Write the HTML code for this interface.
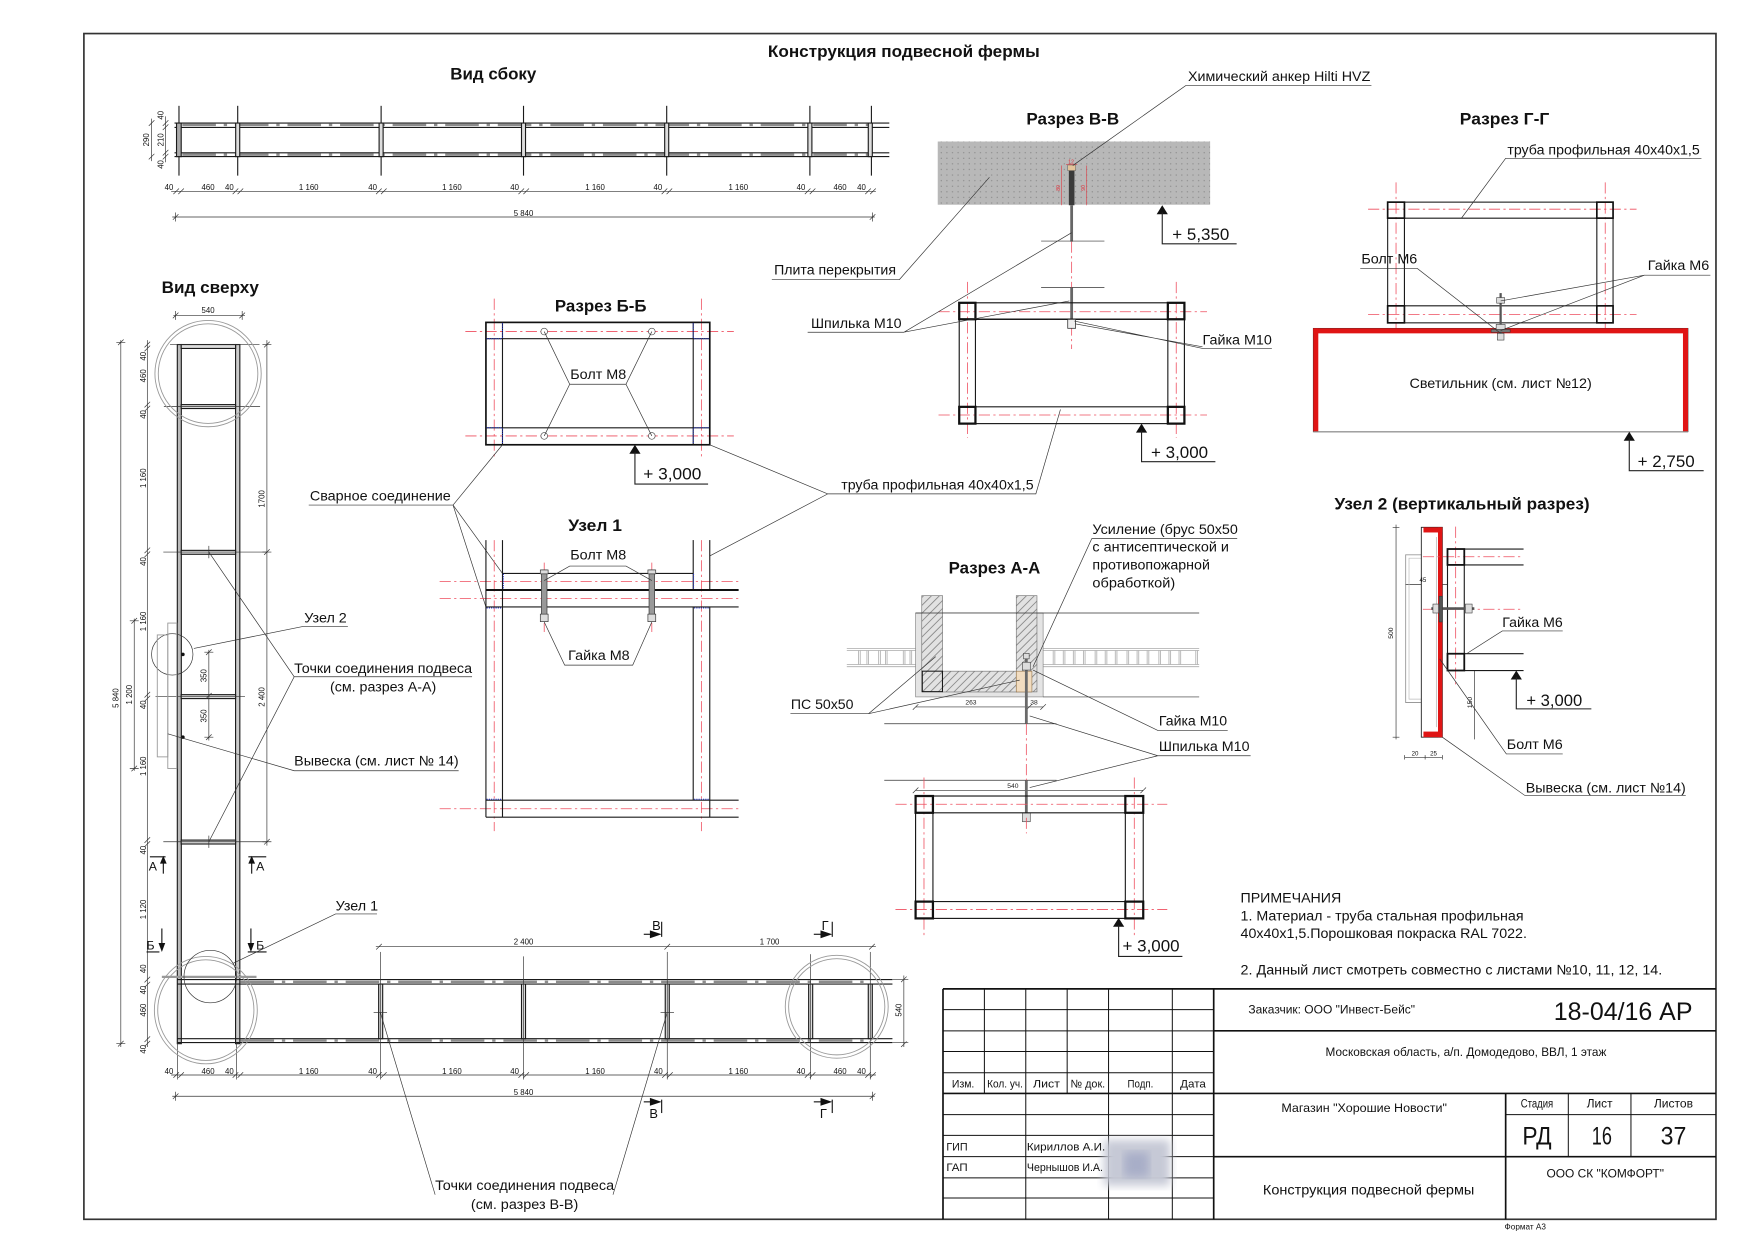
<!DOCTYPE html>
<html><head><meta charset="utf-8">
<style>
html,body{margin:0;padding:0;background:#fff;}
svg{display:block;}
text{font-family:"Liberation Sans",sans-serif;fill:#111;}
.k{stroke:#1a1a1a;fill:none;stroke-width:1;}
.kb{stroke:#111;fill:none;stroke-width:2;}
.th{stroke:#333;fill:none;stroke-width:0.6;}
.g{stroke:#9a9a9a;fill:none;stroke-width:0.8;}
.r{stroke:#ee4d5e;fill:none;stroke-width:0.7;stroke-dasharray:10 3 2 3;}
.ld{stroke:#333;fill:none;stroke-width:0.6;}
.gd{stroke:#8c8c8c;stroke-width:2.2;stroke-dasharray:30 7 3 7;fill:none;}
.wb{stroke:#2233cc;stroke-width:0.9;stroke-dasharray:1 1;fill:none;}
.lab{font-size:12.5px;}
.ttl{font-size:15px;font-weight:bold;}
.dm{font-size:7px;fill:#222;}
.el{font-size:14.5px;}
.go{font-family:"Liberation Sans Narrow","Liberation Sans",sans-serif;}
</style></head><body>
<svg width="1754" height="1240" viewBox="0 0 1568 1108.5" preserveAspectRatio="none" xmlns="http://www.w3.org/2000/svg">
<defs>
<pattern id="dots" width="5" height="5" patternUnits="userSpaceOnUse"><rect width="5" height="5" fill="#b8b8b8"/><circle cx="1.5" cy="1.5" r="0.6" fill="#8a8a8a"/></pattern>
<pattern id="hatch" width="5" height="5" patternUnits="userSpaceOnUse" patternTransform="rotate(45)"><rect width="5" height="5" fill="#e2e2e2"/><line x1="0" y1="0" x2="0" y2="5" stroke="#8a8a8a" stroke-width="1.6"/></pattern>
<filter id="blur"><feGaussianBlur stdDeviation="4"/></filter>
</defs>
<rect x="0" y="0" width="1568" height="1108.5" fill="#fff"/>

<!-- Frame -->
<rect x="75" y="30" width="1459" height="1060" fill="none" stroke="#333" stroke-width="1.5"/>

<!-- Main title -->
<text x="808" y="51" text-anchor="middle" class="ttl" textLength="243" lengthAdjust="spacingAndGlyphs">Конструкция подвесной фермы</text>
<text x="441" y="71" text-anchor="middle" class="ttl" textLength="77" lengthAdjust="spacingAndGlyphs">Вид сбоку</text>
<text x="188" y="262" text-anchor="middle" class="ttl" textLength="87" lengthAdjust="spacingAndGlyphs">Вид сверху</text>

<!-- ===== SIDE VIEW ===== -->
<g class="k">
<line x1="156" y1="110" x2="795" y2="110"/>
<line x1="156" y1="113.9" x2="795" y2="113.9"/>
<line x1="156" y1="136.6" x2="795" y2="136.6"/>
<line x1="156" y1="140" x2="795" y2="140"/>
</g>
<line class="gd" x1="163" y1="111.6" x2="776" y2="111.6"/>
<line class="gd" x1="163" y1="138.3" x2="776" y2="138.3"/>
<g class="k">
<line x1="160" y1="94.6" x2="160" y2="157"/><rect x="157.8" y="110" width="4.2" height="30" fill="#aaa"/>
<line x1="212.5" y1="94.6" x2="212.5" y2="157"/><rect x="210.7" y="110" width="3.6" height="30" fill="#ddd"/>
<line x1="340.7" y1="94.6" x2="340.7" y2="157"/><rect x="338.9" y="110" width="3.6" height="30" fill="#ddd"/>
<line x1="468" y1="94.6" x2="468" y2="157"/><rect x="466.2" y="110" width="3.6" height="30" fill="#ddd"/>
<line x1="596" y1="94.6" x2="596" y2="157"/><rect x="594.2" y="110" width="3.6" height="30" fill="#ddd"/>
<line x1="724" y1="94.6" x2="724" y2="157"/><rect x="722.2" y="110" width="3.6" height="30" fill="#ddd"/>
<line x1="779" y1="94.6" x2="779" y2="157"/><rect x="776.2" y="110" width="3.6" height="30" fill="#ddd"/>
</g>
<!-- chain dims side -->
<g class="th">
<line x1="153" y1="171" x2="783" y2="171"/>
<path d="M155,173.5 L160,168.5 M159.4,173.5 L164.4,168.5 M208,173.5 L213,168.5 M212.4,173.5 L217.4,168.5 M336.2,173.5 L341.2,168.5 M340.6,173.5 L345.6,168.5 M463.5,173.5 L468.5,168.5 M467.9,173.5 L472.9,168.5 M591.5,173.5 L596.5,168.5 M595.9,173.5 L600.9,168.5 M719.5,173.5 L724.5,168.5 M723.9,173.5 L728.9,168.5 M773.5,173.5 L778.5,168.5 M777.9,173.5 L782.9,168.5"/>
<line x1="154" y1="194" x2="782" y2="194"/>
<path d="M154.5,196.5 L159.5,191.5 M777.5,196.5 L782.5,191.5 M157,190 V198 M780,190 V198"/>
<line x1="135.5" y1="106" x2="135.5" y2="144"/>
<path d="M133,112.5 L138,107.5 M133,142.5 L138,137.5"/>
<line x1="148" y1="104" x2="148" y2="145"/>
<path d="M145.5,112.5 L150.5,107.5 M145.5,116.2 L150.5,111.2 M145.5,139 L150.5,134 M145.5,142.5 L150.5,137.5"/>
</g>
<g class="dm">
<text x="155" y="170" text-anchor="end">40</text>
<text x="186" y="170" text-anchor="middle">460</text>
<text x="209" y="170" text-anchor="end">40</text>
<text x="276" y="170" text-anchor="middle">1 160</text>
<text x="337" y="170" text-anchor="end">40</text>
<text x="404" y="170" text-anchor="middle">1 160</text>
<text x="464" y="170" text-anchor="end">40</text>
<text x="532" y="170" text-anchor="middle">1 160</text>
<text x="592" y="170" text-anchor="end">40</text>
<text x="660" y="170" text-anchor="middle">1 160</text>
<text x="720" y="170" text-anchor="end">40</text>
<text x="751" y="170" text-anchor="middle">460</text>
<text x="774" y="170" text-anchor="end">40</text>
<text x="468" y="193" text-anchor="middle">5 840</text>
<text transform="translate(133,125) rotate(-90)" text-anchor="middle">290</text>
<text transform="translate(146,103) rotate(-90)" text-anchor="middle">40</text>
<text transform="translate(146,125) rotate(-90)" text-anchor="middle">210</text>
<text transform="translate(146,147) rotate(-90)" text-anchor="middle">40</text>
</g>

<!-- ===== TOP VIEW vertical member ===== -->
<g class="k">
<rect x="158.5" y="308" width="3.6" height="625" fill="#bbb"/>
<rect x="210.6" y="308" width="3.8" height="625" fill="#ccc"/>
</g>
<g class="k">
<rect x="162" y="308" width="48.6" height="3.5" fill="#ddd"/>
<rect x="162" y="361.7" width="48.6" height="3.5" fill="#ddd"/>
<rect x="162" y="492" width="48.6" height="3.5" fill="#ddd"/>
<rect x="162" y="621" width="48.6" height="3.5" fill="#ddd"/>
<rect x="162" y="751" width="48.6" height="3.5" fill="#ddd"/>
</g>
<g class="th">
<line x1="152" y1="308" x2="232" y2="308"/>
<line x1="146.5" y1="363.5" x2="232.5" y2="363.5"/>
<line x1="146" y1="493.5" x2="239" y2="493.5"/>
<line x1="139" y1="622.5" x2="219" y2="622.5"/>
<line x1="146" y1="752.5" x2="239" y2="752.5"/>
<line x1="186.7" y1="488" x2="186.7" y2="499"/>
<line x1="186.7" y1="747" x2="186.7" y2="758"/>
</g>
<!-- circles -->
<circle cx="186" cy="334" r="47.5" fill="none" stroke="#999" stroke-width="0.8"/>
<circle cx="186" cy="334" r="44.5" fill="none" stroke="#999" stroke-width="0.8"/>
<circle cx="154" cy="585" r="18.5" fill="none" stroke="#333" stroke-width="0.6"/>
<!-- sign -->
<rect x="140.6" y="567.6" width="9.4" height="109" fill="none" stroke="#999" stroke-width="0.8"/>
<rect x="150" y="557" width="8" height="130" fill="none" stroke="#999" stroke-width="0.8"/>
<circle cx="163.5" cy="585" r="1.6" fill="#111"/>
<circle cx="163.5" cy="659" r="1.6" fill="#111"/>
<!-- dims top view -->
<g class="th">
<line x1="155" y1="282" x2="219" y2="282"/>
<path d="M154.5,284.5 L159.5,279.5 M214,284.5 L219,279.5 M157,278 V286 M216.5,278 V286"/>
<line x1="108" y1="304" x2="108" y2="936"/>
<path d="M105.5,308.5 L110.5,303.5 M105.5,935.5 L110.5,930.5 M104,306 H112 M104,933 H112"/>
<line x1="131.7" y1="304" x2="131.7" y2="936"/>
<path d="M129.2,310.5 L134.2,305.5 M129.2,314 L134.2,309 M129.2,364.2 L134.2,359.2 M129.2,367.7 L134.2,362.7 M129.2,494.5 L134.2,489.5 M129.2,498 L134.2,493 M129.2,623.5 L134.2,618.5 M129.2,627 L134.2,622 M129.2,753.5 L134.2,748.5 M129.2,757 L134.2,752 M129.2,878.2 L134.2,873.2 M129.2,882.7 L134.2,877.7 M129.2,931.5 L134.2,926.5 M129.2,935.5 L134.2,930.5"/>
<line x1="120" y1="553" x2="120" y2="689"/>
<path d="M117.5,557.5 L122.5,552.5 M117.5,689.5 L122.5,684.5 M116,555 H124 M116,687 H124"/>
<line x1="238.6" y1="304" x2="238.6" y2="756"/>
<path d="M236.1,310.5 L241.1,305.5 M236.1,496 L241.1,491 M236.1,755 L241.1,750 M234.6,308 H242.6 M234.6,493.5 H242.6 M234.6,752.5 H242.6"/>
<line x1="186.7" y1="581" x2="186.7" y2="662"/>
<path d="M184.2,585.5 L189.2,580.5 M184.2,624.5 L189.2,619.5 M184.2,661.5 L189.2,656.5 M182.7,583 H190.7 M182.7,659 H190.7"/>
</g>
<g class="dm">
<text x="186" y="280" text-anchor="middle">540</text>
<text transform="translate(106,624) rotate(-90)" text-anchor="middle">5 840</text>
<text transform="translate(118,621) rotate(-90)" text-anchor="middle">1 200</text>
<text transform="translate(130.5,318.5) rotate(-90)" text-anchor="middle">40</text>
<text transform="translate(130.5,336) rotate(-90)" text-anchor="middle">460</text>
<text transform="translate(130.5,370.5) rotate(-90)" text-anchor="middle">40</text>
<text transform="translate(130.5,427.5) rotate(-90)" text-anchor="middle">1 160</text>
<text transform="translate(130.5,502) rotate(-90)" text-anchor="middle">40</text>
<text transform="translate(130.5,555.5) rotate(-90)" text-anchor="middle">1 160</text>
<text transform="translate(130.5,630) rotate(-90)" text-anchor="middle">40</text>
<text transform="translate(130.5,685) rotate(-90)" text-anchor="middle">1 160</text>
<text transform="translate(130.5,760) rotate(-90)" text-anchor="middle">40</text>
<text transform="translate(130.5,813) rotate(-90)" text-anchor="middle">1 120</text>
<text transform="translate(130.5,866) rotate(-90)" text-anchor="middle">40</text>
<text transform="translate(130.5,885) rotate(-90)" text-anchor="middle">40</text>
<text transform="translate(130.5,903) rotate(-90)" text-anchor="middle">460</text>
<text transform="translate(130.5,938) rotate(-90)" text-anchor="middle">40</text>
<text transform="translate(236.5,446) rotate(-90)" text-anchor="middle">1700</text>
<text transform="translate(236.5,623) rotate(-90)" text-anchor="middle">2 400</text>
<text transform="translate(184.5,604) rotate(-90)" text-anchor="middle">350</text>
<text transform="translate(184.5,640) rotate(-90)" text-anchor="middle">350</text>
</g>
<!-- A-A markers -->
<g>
<line x1="134" y1="766" x2="148" y2="766" stroke="#111" stroke-width="1"/>
<text x="133" y="778" style="font-size:11px">А</text>
<line x1="146" y1="770" x2="146" y2="781" stroke="#111" stroke-width="1"/>
<path d="M143,772 L146,765 L149,772 Z" fill="#111"/>
<line x1="222" y1="766" x2="238" y2="766" stroke="#111" stroke-width="1"/>
<text x="229" y="778" style="font-size:11px">А</text>
<line x1="225" y1="770" x2="225" y2="781" stroke="#111" stroke-width="1"/>
<path d="M222,772 L225,765 L228,772 Z" fill="#111"/>
</g>
<!-- Б markers -->
<g>
<text x="131" y="849" style="font-size:11px">Б</text>
<line x1="131" y1="851" x2="142.5" y2="851" stroke="#111" stroke-width="1"/>
<line x1="144.7" y1="830" x2="144.7" y2="846" stroke="#111" stroke-width="1"/>
<path d="M141.7,843 L144.7,851 L147.7,843 Z" fill="#111"/>
<text x="229" y="849" style="font-size:11px">Б</text>
<line x1="221.5" y1="851" x2="238.3" y2="851" stroke="#111" stroke-width="1"/>
<line x1="224.3" y1="830" x2="224.3" y2="846" stroke="#111" stroke-width="1"/>
<path d="M221.3,843 L224.3,851 L227.3,843 Z" fill="#111"/>
</g>

<!-- Top view labels -->
<g class="ld">
<path d="M173.3,579.7 L271,560 H311"/>
<path d="M186.7,493.5 L263,605 L186.7,752.5 M263,605 H422"/>
<path d="M150,656 L263,689 H410"/>
</g>
<text x="272" y="556.5" class="lab" textLength="38" lengthAdjust="spacingAndGlyphs">Узел 2</text>
<text x="263" y="601.5" class="lab" textLength="159" lengthAdjust="spacingAndGlyphs">Точки соединения подвеса</text>
<text x="342.5" y="618" class="lab" text-anchor="middle" textLength="95" lengthAdjust="spacingAndGlyphs">(см. разрез А-А)</text>
<text x="263" y="684.5" class="lab" textLength="147" lengthAdjust="spacingAndGlyphs">Вывеска (см. лист № 14)</text>

<!-- ===== BOTTOM HORIZONTAL MEMBER ===== -->
<g class="k">
<line x1="158.6" y1="875.7" x2="797.8" y2="875.7"/>
<line x1="158.6" y1="879.7" x2="797.8" y2="879.7"/>
<line x1="158.6" y1="928.5" x2="797.8" y2="928.5"/>
<line x1="158.6" y1="932" x2="797.8" y2="932"/>
</g>
<line class="gd" x1="215" y1="877.7" x2="778" y2="877.7"/>
<line class="gd" x1="215" y1="930.2" x2="778" y2="930.2"/>
<line x1="144.7" y1="873.3" x2="229.3" y2="873.3" stroke="#999" stroke-width="2"/>
<g class="k">
<rect x="338.5" y="879.7" width="3.6" height="48.8" fill="#ddd"/>
<rect x="466.2" y="879.7" width="3.6" height="48.8" fill="#ddd"/>
<rect x="594.7" y="879.7" width="3.6" height="48.8" fill="#ddd"/>
<rect x="722.9" y="879.7" width="3.6" height="48.8" fill="#ddd"/>
<rect x="776.2" y="879.7" width="3.6" height="48.8" fill="#ddd"/>
</g>
<g class="th">
<line x1="340" y1="851" x2="340" y2="965"/>
<line x1="468" y1="855" x2="468" y2="965"/>
<line x1="596.5" y1="851" x2="596.5" y2="965"/>
<line x1="724.7" y1="853" x2="724.7" y2="965"/>
<line x1="778" y1="851" x2="778" y2="965"/>
<line x1="158.6" y1="932" x2="158.6" y2="965"/>
<line x1="211.5" y1="932" x2="211.5" y2="965"/>
<line x1="334" y1="905" x2="346" y2="905"/>
<line x1="590.5" y1="905" x2="602.5" y2="905"/>
<!-- chains -->
<line x1="153" y1="961" x2="783" y2="961"/>
<path d="M155,963.5 L160,958.5 M159.4,963.5 L164.4,958.5 M208,963.5 L213,958.5 M212.4,963.5 L217.4,958.5 M336.2,963.5 L341.2,958.5 M340.6,963.5 L345.6,958.5 M463.5,963.5 L468.5,958.5 M467.9,963.5 L472.9,958.5 M592,963.5 L597,958.5 M596.4,963.5 L601.4,958.5 M719.5,963.5 L724.5,958.5 M723.9,963.5 L728.9,958.5 M773.5,963.5 L778.5,958.5 M777.9,963.5 L782.9,958.5"/>
<line x1="154" y1="980" x2="782" y2="980"/>
<path d="M154.5,982.5 L159.5,977.5 M777.5,982.5 L782.5,977.5 M157,976 V984 M780,976 V984"/>
<line x1="336" y1="846.3" x2="783" y2="846.3"/>
<path d="M336.3,848.8 L341.3,843.8 M594,848.8 L599,843.8 M777,848.8 L782,843.8"/>
<line x1="808" y1="872" x2="808" y2="936"/>
<path d="M805.5,878 L810.5,873 M805.5,936 L810.5,931 M798,875.7 H812 M798,932 H812"/>
</g>
<g class="dm">
<text x="155" y="960" text-anchor="end">40</text>
<text x="186" y="960" text-anchor="middle">460</text>
<text x="209" y="960" text-anchor="end">40</text>
<text x="276" y="960" text-anchor="middle">1 160</text>
<text x="337" y="960" text-anchor="end">40</text>
<text x="404" y="960" text-anchor="middle">1 160</text>
<text x="464" y="960" text-anchor="end">40</text>
<text x="532" y="960" text-anchor="middle">1 160</text>
<text x="592.5" y="960" text-anchor="end">40</text>
<text x="660" y="960" text-anchor="middle">1 160</text>
<text x="720" y="960" text-anchor="end">40</text>
<text x="751" y="960" text-anchor="middle">460</text>
<text x="774" y="960" text-anchor="end">40</text>
<text x="468" y="979" text-anchor="middle">5 840</text>
<text x="468" y="844.5" text-anchor="middle">2 400</text>
<text x="688" y="844.5" text-anchor="middle">1 700</text>
<text transform="translate(806,903) rotate(-90)" text-anchor="middle">540</text>
</g>
<!-- circles bottom -->
<ellipse cx="184" cy="903" rx="46" ry="48" fill="none" stroke="#999" stroke-width="0.8"/>
<ellipse cx="184" cy="903" rx="43" ry="45" fill="none" stroke="#999" stroke-width="0.8"/>
<circle cx="188" cy="873" r="23.5" fill="none" stroke="#333" stroke-width="0.6"/>
<circle cx="748" cy="900" r="46" fill="none" stroke="#999" stroke-width="0.8"/>
<circle cx="748" cy="900" r="43" fill="none" stroke="#999" stroke-width="0.8"/>
<!-- В / Г markers -->
<g>
<text x="583" y="831.5" style="font-size:11.5px">В</text>
<line x1="591.5" y1="824" x2="591.5" y2="837.5" stroke="#111" stroke-width="1"/>
<line x1="575.5" y1="835.2" x2="582" y2="835.2" stroke="#111" stroke-width="1"/>
<path d="M581,831.7 L591.5,835.2 L581,838.7 Z" fill="#111"/>
<text x="580.5" y="999.5" style="font-size:11.5px">В</text>
<line x1="591.5" y1="983" x2="591.5" y2="995" stroke="#111" stroke-width="1"/>
<line x1="575.5" y1="985" x2="582" y2="985" stroke="#111" stroke-width="1"/>
<path d="M581,981.5 L591.5,985 L581,988.5 Z" fill="#111"/>
<text x="734.5" y="831.5" style="font-size:11.5px">Г</text>
<line x1="744" y1="824" x2="744" y2="837.5" stroke="#111" stroke-width="1"/>
<line x1="727.5" y1="835.2" x2="734" y2="835.2" stroke="#111" stroke-width="1"/>
<path d="M733.5,831.7 L744,835.2 L733.5,838.7 Z" fill="#111"/>
<text x="733" y="999.5" style="font-size:11.5px">Г</text>
<line x1="744" y1="983" x2="744" y2="995" stroke="#111" stroke-width="1"/>
<line x1="727.5" y1="985" x2="734" y2="985" stroke="#111" stroke-width="1"/>
<path d="M733.5,981.5 L744,985 L733.5,988.5 Z" fill="#111"/>
</g>
<g class="ld">
<path d="M208.6,861 L300,817 H337"/>
<path d="M389,1068 L340,905 M548,1068 L596.5,905"/>
</g>
<text x="300" y="814" class="lab" textLength="38" lengthAdjust="spacingAndGlyphs">Узел 1</text>
<text x="469" y="1064" class="lab" text-anchor="middle" textLength="160" lengthAdjust="spacingAndGlyphs">Точки соединения подвеса</text>
<text x="469" y="1081" class="lab" text-anchor="middle" textLength="96" lengthAdjust="spacingAndGlyphs">(см. разрез В-В)</text>

<!-- ===== РАЗРЕЗ Б-Б ===== -->
<text x="537" y="278.5" text-anchor="middle" class="ttl" textLength="82" lengthAdjust="spacingAndGlyphs">Разрез Б-Б</text>
<g class="r">
<line x1="416" y1="296.4" x2="656" y2="296.4"/>
<line x1="416" y1="389.7" x2="656" y2="389.7"/>
<line x1="441.8" y1="267" x2="441.8" y2="410"/>
<line x1="627" y1="267" x2="627" y2="410"/>
</g>
<rect x="434.4" y="288.2" width="200.1" height="109.4" fill="none" stroke="#111" stroke-width="1.5"/>
<g class="k">
<line x1="434.4" y1="302.8" x2="634.5" y2="302.8"/>
<line x1="434.4" y1="382.4" x2="634.5" y2="382.4"/>
<line x1="449.2" y1="288.2" x2="449.2" y2="397.6"/>
<line x1="619.7" y1="288.2" x2="619.7" y2="397.6"/>
</g>
<g class="wb">
<path d="M449.2,289 V302 M435,302.8 H448.5 M619.7,289 V302 M620.5,302.8 H634 M449.2,383 V397 M435,382.4 H448.5 M619.7,383 V397 M620.5,382.4 H634"/>
</g>
<g fill="#fff" stroke="#444" stroke-width="0.6">
<circle cx="486.5" cy="296.4" r="3"/><circle cx="582.7" cy="296.4" r="3"/>
<circle cx="486.5" cy="389.7" r="3"/><circle cx="582.7" cy="389.7" r="3"/>
</g>
<g class="ld">
<path d="M486.5,296.4 L509.3,343.5 L486.5,389.7 M582.7,296.4 L559.6,343.5 L582.7,389.7 M509.3,343.5 H559.6"/>
</g>
<text x="534.8" y="339" text-anchor="middle" class="lab" textLength="50" lengthAdjust="spacingAndGlyphs">Болт М8</text>
<!-- elevation Б-Б -->
<path d="M567.6,397.6 L562.6,405.6 L572.6,405.6 Z" fill="#111"/>
<path d="M567.6,404 V432.7 H633" fill="none" stroke="#222" stroke-width="1"/>
<text x="575" y="428.5" class="el" textLength="52" lengthAdjust="spacingAndGlyphs">+ 3,000</text>

<!-- Сварное / труба labels -->
<g class="ld">
<path d="M276,451.5 H405 L449.2,397.6 M405,451.5 L449.2,512.6 M405,451.5 L434.4,542.6"/>
<path d="M634.5,397.6 L740,441.5 H926 L948,366 M634.5,497 L740,441.5"/>
</g>
<text x="277" y="447.5" class="lab" textLength="126" lengthAdjust="spacingAndGlyphs">Сварное соединение</text>
<text x="752" y="437.5" class="lab" textLength="172" lengthAdjust="spacingAndGlyphs">труба профильная 40х40х1,5</text>

<!-- ===== УЗЕЛ 1 ===== -->
<text x="532" y="474.5" text-anchor="middle" class="ttl" textLength="48" lengthAdjust="spacingAndGlyphs">Узел 1</text>
<g class="r">
<line x1="393" y1="519.8" x2="660" y2="519.8"/>
<line x1="393" y1="535" x2="660" y2="535"/>
<line x1="393" y1="723" x2="660" y2="723"/>
<line x1="441.8" y1="482.8" x2="441.8" y2="743"/>
<line x1="627" y1="482.8" x2="627" y2="743"/>
<line x1="486.5" y1="503" x2="486.5" y2="565"/>
<line x1="582.7" y1="503" x2="582.7" y2="565"/>
</g>
<g class="k">
<line x1="434.4" y1="482.8" x2="434.4" y2="730.5"/>
<line x1="449.2" y1="482.8" x2="449.2" y2="730.5"/>
<line x1="619.7" y1="482.8" x2="619.7" y2="527.4"/>
<line x1="634.5" y1="482.8" x2="634.5" y2="527.4"/>
<line x1="619.7" y1="542.6" x2="619.7" y2="715.3"/>
<line x1="634.5" y1="542.6" x2="634.5" y2="730.5"/>
<line x1="449.2" y1="512.6" x2="619.7" y2="512.6"/>
<line x1="434.4" y1="542.6" x2="660.3" y2="542.6"/>
<line x1="434.4" y1="715.3" x2="660.3" y2="715.3"/>
<line x1="434.4" y1="730.5" x2="660.3" y2="730.5"/>
</g>
<line x1="434.4" y1="527.4" x2="660.3" y2="527.4" stroke="#111" stroke-width="1.8"/>
<g class="wb">
<path d="M450,513 V527 M620,513 V527 M435,543.5 H448.5 M620.5,543.5 H634 M435,714.5 H448.5 M620.5,714.5 H634"/>
</g>
<g stroke="#333" stroke-width="0.6">
<rect x="484" y="509.5" width="5" height="46" fill="#999"/>
<rect x="580.2" y="509.5" width="5" height="46" fill="#999"/>
<rect x="483" y="509.5" width="7" height="3.5" fill="#ddd"/>
<rect x="579.2" y="509.5" width="7" height="3.5" fill="#ddd"/>
<rect x="483" y="549" width="7" height="6.7" fill="#ddd"/>
<rect x="579.2" y="549" width="7" height="6.7" fill="#ddd"/>
</g>
<g class="ld">
<path d="M486.5,519 L509.3,506 H559.6 L582.7,519"/>
<path d="M486.5,556 L504.8,594.6 H565.6 L582.7,556"/>
</g>
<text x="534.8" y="500" text-anchor="middle" class="lab" textLength="50" lengthAdjust="spacingAndGlyphs">Болт М8</text>
<text x="535.4" y="590" text-anchor="middle" class="lab" textLength="55" lengthAdjust="spacingAndGlyphs">Гайка М8</text>

<!-- ===== РАЗРЕЗ В-В ===== -->
<text x="959" y="111.5" text-anchor="middle" class="ttl" textLength="83" lengthAdjust="spacingAndGlyphs">Разрез В-В</text>
<rect x="838.3" y="126.5" width="243.5" height="56.5" fill="url(#dots)"/>
<g stroke="#e0303a" stroke-width="0.5" fill="none">
<line x1="949" y1="148" x2="949" y2="183.5"/>
<line x1="971.5" y1="148" x2="971.5" y2="183.5"/>
<line x1="953" y1="147" x2="963" y2="147"/>
</g>
<text x="955" y="146" style="font-size:4.5px;fill:#e0303a">12</text>
<text transform="translate(947.5,168) rotate(-90)" style="font-size:4.5px;fill:#e0303a" text-anchor="middle">80</text>
<text transform="translate(970,168) rotate(-90)" style="font-size:4.5px;fill:#e0303a" text-anchor="middle">90</text>
<rect x="955.5" y="152" width="5" height="31.5" fill="#3a3a3a"/>
<rect x="954.5" y="147.5" width="7" height="5" fill="#e3c49a" stroke="#555" stroke-width="0.4"/>
<line x1="958" y1="183.5" x2="958" y2="216" stroke="#666" stroke-width="2.5"/>
<line x1="958" y1="257" x2="958" y2="290" stroke="#666" stroke-width="2.5"/>
<g class="th">
<line x1="930.7" y1="215.5" x2="987.3" y2="215.5"/>
<line x1="930.7" y1="257" x2="987.3" y2="257"/>
</g>
<g class="r">
<line x1="839" y1="278.7" x2="1079" y2="278.7"/>
<line x1="839" y1="371" x2="1079" y2="371"/>
<line x1="865" y1="252" x2="865" y2="391.5"/>
<line x1="1051.5" y1="252" x2="1051.5" y2="391.5"/>
<line x1="958" y1="216" x2="958" y2="257"/>
<line x1="958" y1="290" x2="958" y2="312"/>
</g>
<rect x="857.5" y="270.7" width="201.3" height="108" fill="none" stroke="#111" stroke-width="1"/>
<g class="k">
<line x1="872" y1="285.4" x2="1044" y2="285.4" stroke-width="1.4"/>
<line x1="872" y1="363.7" x2="1044" y2="363.7"/>
<line x1="872" y1="285.4" x2="872" y2="363.7"/>
<line x1="1044" y1="285.4" x2="1044" y2="363.7"/>
</g>
<g class="kb">
<rect x="857.5" y="270.7" width="14.5" height="14.7"/>
<rect x="1044" y="270.7" width="14.8" height="14.7"/>
<rect x="857.5" y="363.7" width="14.5" height="15"/>
<rect x="1044" y="363.7" width="14.8" height="15"/>
</g>
<rect x="954.5" y="285.5" width="7" height="8" fill="#eee" stroke="#333" stroke-width="0.7"/>
<!-- elevations В-В -->
<path d="M1039,183.5 L1034,191.5 L1044,191.5 Z" fill="#111"/>
<path d="M1039,190 V218 H1105.5" fill="none" stroke="#222" stroke-width="1"/>
<text x="1048" y="214.5" class="el" textLength="51" lengthAdjust="spacingAndGlyphs">+ 5,350</text>
<path d="M1020.5,378.7 L1015.5,386.7 L1025.5,386.7 Z" fill="#111"/>
<path d="M1020.5,385 V412.7 H1086.5" fill="none" stroke="#222" stroke-width="1"/>
<text x="1029" y="409.5" class="el" textLength="51" lengthAdjust="spacingAndGlyphs">+ 3,000</text>
<!-- labels В-В -->
<g class="ld">
<path d="M1226,76.5 H1060 L959,148"/>
<path d="M690,250 H804 L884.5,158.5"/>
<path d="M722,297 H808 L958,208 M808,297 L956,269"/>
<path d="M1137,311.5 H1075 L960.5,287 M1075,310 L961,289.5"/>
</g>
<text x="1062" y="72.5" class="lab" textLength="163" lengthAdjust="spacingAndGlyphs">Химический анкер Hilti HVZ</text>
<text x="692" y="245.5" class="lab" textLength="109" lengthAdjust="spacingAndGlyphs">Плита перекрытия</text>
<text x="725" y="293" class="lab" textLength="81" lengthAdjust="spacingAndGlyphs">Шпилька М10</text>
<text x="1075" y="308" class="lab" textLength="62" lengthAdjust="spacingAndGlyphs">Гайка М10</text>

<!-- ===== РАЗРЕЗ Г-Г ===== -->
<text x="1345" y="111.5" text-anchor="middle" class="ttl" textLength="80" lengthAdjust="spacingAndGlyphs">Разрез Г-Г</text>
<g class="r">
<line x1="1223" y1="187" x2="1463" y2="187"/>
<line x1="1223" y1="281" x2="1463" y2="281"/>
<line x1="1248" y1="163" x2="1248" y2="296"/>
<line x1="1435" y1="163" x2="1435" y2="296"/>
</g>
<rect x="1240.5" y="180.7" width="201.5" height="107.9" fill="none" stroke="#222" stroke-width="1"/>
<g class="k">
<line x1="1255.5" y1="195" x2="1427.5" y2="195"/>
<line x1="1255.5" y1="273.4" x2="1427.5" y2="273.4"/>
<line x1="1255.5" y1="195" x2="1255.5" y2="273.4"/>
<line x1="1427.5" y1="195" x2="1427.5" y2="273.4"/>
</g>
<g stroke="#111" stroke-width="1.5" fill="none">
<rect x="1240.5" y="180.7" width="15" height="14.3"/>
<rect x="1427.5" y="180.7" width="14.5" height="14.3"/>
<rect x="1240.5" y="273.4" width="15" height="15.2"/>
<rect x="1427.5" y="273.4" width="14.5" height="15.2"/>
</g>
<!-- светильник -->
<rect x="1174" y="293.5" width="335" height="92.5" fill="#fff" stroke="#333" stroke-width="0.6"/>
<rect x="1174" y="293.5" width="335" height="4.5" fill="#e01515"/>
<rect x="1174" y="293.5" width="4.5" height="92.5" fill="#e01515"/>
<rect x="1504.5" y="293.5" width="4.5" height="92.5" fill="#e01515"/>
<line x1="1174" y1="386" x2="1509" y2="386" stroke="#888" stroke-width="1"/>
<line x1="1341.5" y1="262" x2="1341.5" y2="304" stroke="#555" stroke-width="2"/>
<g fill="#ddd" stroke="#333" stroke-width="0.5">
<rect x="1338" y="266" width="7" height="5"/>
<rect x="1337.5" y="290" width="8" height="5"/>
<rect x="1333" y="294.5" width="17" height="2.5" fill="#777"/>
<rect x="1338.5" y="298" width="6" height="6"/>
</g>
<text x="1341.5" y="347" text-anchor="middle" class="lab" textLength="163" lengthAdjust="spacingAndGlyphs">Светильник (см. лист №12)</text>
<path d="M1456.5,386 L1451.5,394 L1461.5,394 Z" fill="#111"/>
<path d="M1456.5,392 V420.8 H1523" fill="none" stroke="#222" stroke-width="1"/>
<text x="1464" y="417.5" class="el" textLength="51" lengthAdjust="spacingAndGlyphs">+ 2,750</text>
<g class="ld">
<path d="M1521,141.5 H1346 L1306.5,195"/>
<path d="M1216,240 H1267 L1341.5,298"/>
<path d="M1529,246 H1470 L1341.5,269 M1470,246 L1341.5,295.5"/>
</g>
<text x="1347.5" y="138" class="lab" textLength="172" lengthAdjust="spacingAndGlyphs">труба профильная 40х40х1,5</text>
<text x="1217" y="235.5" class="lab" textLength="50" lengthAdjust="spacingAndGlyphs">Болт М6</text>
<text x="1473" y="241.5" class="lab" textLength="55" lengthAdjust="spacingAndGlyphs">Гайка М6</text>

<!-- ===== УЗЕЛ 2 ===== -->
<text x="1307" y="455.5" text-anchor="middle" class="ttl" textLength="228" lengthAdjust="spacingAndGlyphs">Узел 2 (вертикальный разрез)</text>
<g class="th">
<line x1="1248" y1="469" x2="1248" y2="661"/>
<path d="M1245,471.4 H1251 M1245,659 H1251"/>
<line x1="1256" y1="522.5" x2="1294" y2="522.5"/>
<line x1="1318" y1="599.4" x2="1318" y2="661"/>
<line x1="1255.7" y1="677" x2="1289.4" y2="677"/>
<path d="M1255.7,675 V679 M1274,675 V679 M1289.4,675 V679"/>
</g>
<path d="M1289,496 H1256.6 V628 H1289" fill="none" stroke="#999" stroke-width="0.8"/>
<path d="M1289,499 H1259.6 V625 H1289" fill="none" stroke="#bbb" stroke-width="0.6"/>
<rect x="1270.6" y="471.4" width="18.8" height="187.6" fill="#fff" stroke="#222" stroke-width="0.8"/>
<rect x="1285.5" y="471.4" width="3.9" height="187.6" fill="#e01515"/>
<rect x="1272.5" y="471.4" width="16.9" height="4.6" fill="#e01515"/>
<rect x="1272.5" y="654" width="16.9" height="5" fill="#e01515"/>
<line x1="1284" y1="480" x2="1284" y2="650" stroke="#aaa" stroke-width="0.6"/>
<g class="r">
<line x1="1301.3" y1="470.8" x2="1301.3" y2="612.8"/>
<line x1="1272" y1="497.7" x2="1362" y2="497.7"/>
<line x1="1272" y1="544.6" x2="1362" y2="544.6"/>
</g>
<g class="k">
<line x1="1294" y1="490.8" x2="1294" y2="599.4"/>
<line x1="1309" y1="490.8" x2="1309" y2="599.4"/>
<line x1="1309" y1="490.8" x2="1362" y2="490.8"/>
<line x1="1309" y1="505" x2="1362" y2="505"/>
<line x1="1309" y1="584.4" x2="1362" y2="584.4"/>
<line x1="1309" y1="599.4" x2="1362" y2="599.4"/>
</g>
<rect x="1294" y="490.8" width="15" height="14.2" fill="none" stroke="#111" stroke-width="1.6"/>
<rect x="1294" y="584.4" width="15" height="15" fill="none" stroke="#111" stroke-width="1.6"/>
<line x1="1279.5" y1="544" x2="1318" y2="544" stroke="#555" stroke-width="2.4"/>
<g fill="#ddd" stroke="#333" stroke-width="0.5">
<rect x="1281" y="540" width="5" height="8"/>
<rect x="1310" y="540" width="6" height="8"/>
<rect x="1286.5" y="533" width="2.8" height="23" fill="#555"/>
</g>
<g class="dm">
<text transform="translate(1245.5,566) rotate(-90)" text-anchor="middle" style="font-size:6px">500</text>
<text x="1272" y="520.5" text-anchor="middle" style="font-size:5.5px">45</text>
<text transform="translate(1316,628) rotate(-90)" text-anchor="middle" style="font-size:6px">150</text>
<text x="1265" y="675.5" text-anchor="middle" style="font-size:5.5px">20</text>
<text x="1281.5" y="675.5" text-anchor="middle" style="font-size:5.5px">25</text>
</g>
<path d="M1355.5,599.4 L1350.5,607.4 L1360.5,607.4 Z" fill="#111"/>
<path d="M1355.5,605 V633.7 H1422.6" fill="none" stroke="#222" stroke-width="1"/>
<text x="1364.5" y="631" class="el" textLength="50" lengthAdjust="spacingAndGlyphs">+ 3,000</text>
<g class="ld">
<path d="M1397,564 H1343 L1311,584.4"/>
<path d="M1397,674 H1346.6 L1287,589"/>
<path d="M1507,711 H1363 L1289.4,659"/>
</g>
<text x="1343" y="560.5" class="lab" textLength="54" lengthAdjust="spacingAndGlyphs">Гайка М6</text>
<text x="1347" y="669.5" class="lab" textLength="50" lengthAdjust="spacingAndGlyphs">Болт М6</text>
<text x="1364" y="708.5" class="lab" textLength="143" lengthAdjust="spacingAndGlyphs">Вывеска (см. лист №14)</text>

<!-- ===== РАЗРЕЗ А-А ===== -->
<text x="889" y="512.5" text-anchor="middle" class="ttl" textLength="82" lengthAdjust="spacingAndGlyphs">Разрез А-А</text>
<!-- ceiling tiles -->
<g stroke="#aaa" stroke-width="0.7" fill="none">
<line x1="757" y1="579.6" x2="818.5" y2="579.6"/><line x1="757" y1="581.5" x2="818.5" y2="581.5"/>
<line x1="757" y1="594" x2="818.5" y2="594"/><line x1="757" y1="596" x2="818.5" y2="596"/>
<line x1="932.5" y1="579.6" x2="1072" y2="579.6"/><line x1="932.5" y1="581.5" x2="1072" y2="581.5"/>
<line x1="932.5" y1="594" x2="1072" y2="594"/><line x1="932.5" y1="596" x2="1072" y2="596"/>
<path d="M767.5,581.5 V594 M769,581.5 V594 M775,581.5 V594 M776.5,581.5 V594 M785.5,581.5 V594 M787,581.5 V594 M791.5,581.5 V594 M793,581.5 V594 M807.5,581.5 V594 M809,581.5 V594 M813.5,581.5 V594 M815,581.5 V594"/>
<path d="M941.5,581.5 V594 M943,581.5 V594 M950.5,581.5 V594 M952,581.5 V594 M959.5,581.5 V594 M961,581.5 V594 M968.5,581.5 V594 M970,581.5 V594 M979,581.5 V594 M980.5,581.5 V594 M988,581.5 V594 M989.5,581.5 V594 M997,581.5 V594 M998.5,581.5 V594 M1007.5,581.5 V594 M1009,581.5 V594 M1016.5,581.5 V594 M1018,581.5 V594 M1025.5,581.5 V594 M1027,581.5 V594 M1036,581.5 V594 M1037.5,581.5 V594 M1045,581.5 V594 M1046.5,581.5 V594 M1054,581.5 V594 M1055.5,581.5 V594 M1069,581.5 V594 M1070.5,581.5 V594"/>
</g>
<rect x="818.5" y="548" width="114" height="75" fill="#e4e4e4" stroke="#888" stroke-width="0.6"/>
<rect x="842.6" y="548" width="65.9" height="52" fill="#fff"/>
<rect x="824" y="532.5" width="18.6" height="86" fill="url(#hatch)" stroke="#777" stroke-width="0.6"/>
<rect x="908.5" y="532.5" width="18.5" height="86" fill="url(#hatch)" stroke="#777" stroke-width="0.6"/>
<rect x="842.6" y="600" width="65.9" height="18.6" fill="url(#hatch)" stroke="#777" stroke-width="0.6"/>
<rect x="824.5" y="600" width="18" height="18.3" fill="none" stroke="#111" stroke-width="0.9"/>
<rect x="908.5" y="600" width="14" height="18.6" fill="#f1dcc0" stroke="#8a6a40" stroke-width="0.5"/>
<g class="th">
<line x1="818.5" y1="548" x2="1072" y2="548"/>
<line x1="932.5" y1="623" x2="1072" y2="623"/>
<line x1="818.5" y1="632" x2="932.5" y2="632"/>
<path d="M816,634.5 L821,629.5 M917.5,634.5 L922.5,629.5 M930,634.5 L935,629.5"/>
<line x1="790.5" y1="647" x2="944.5" y2="647"/>
<line x1="790.5" y1="697.5" x2="944.5" y2="697.5"/>
<line x1="818.5" y1="706.5" x2="1022" y2="706.5"/>
<path d="M816,709 L821,704 M1019.5,709 L1024.5,704"/>
</g>
<text x="868" y="630" text-anchor="middle" class="dm" style="font-size:6px">263</text>
<text x="924.4" y="630" text-anchor="middle" class="dm" style="font-size:6px">38</text>
<text x="905.5" y="704.5" text-anchor="middle" class="dm" style="font-size:6px">540</text>
<line x1="917.5" y1="585.6" x2="917.5" y2="647" stroke="#6a6a6a" stroke-width="2.5"/>
<line x1="917.5" y1="697.5" x2="917.5" y2="731" stroke="#6a6a6a" stroke-width="2.5"/>
<g fill="#ddd" stroke="#333" stroke-width="0.5">
<rect x="915" y="584" width="5" height="5"/>
<rect x="914" y="592" width="7" height="7"/>
<rect x="914" y="726.6" width="7" height="8"/>
</g>
<g class="r">
<line x1="800.5" y1="719" x2="1043.5" y2="719"/>
<line x1="800.5" y1="813" x2="1043.5" y2="813"/>
<line x1="826" y1="695" x2="826" y2="839"/>
<line x1="1014" y1="695" x2="1014" y2="839"/>
<line x1="917.5" y1="647" x2="917.5" y2="697.5"/>
<line x1="917.5" y1="731" x2="917.5" y2="745"/>
</g>
<rect x="818.5" y="711.6" width="203.5" height="109.4" fill="none" stroke="#111" stroke-width="1"/>
<g class="k">
<line x1="834" y1="726.6" x2="1006" y2="726.6"/>
<line x1="834" y1="806" x2="1006" y2="806"/>
<line x1="834" y1="726.6" x2="834" y2="806"/>
<line x1="1006" y1="726.6" x2="1006" y2="806"/>
</g>
<g class="kb">
<rect x="818.5" y="711.6" width="15.5" height="15"/>
<rect x="1006" y="711.6" width="16" height="15"/>
<rect x="818.5" y="806" width="15.5" height="15"/>
<rect x="1006" y="806" width="16" height="15"/>
</g>
<path d="M1000,820.5 L995,828.5 L1005,828.5 Z" fill="#111"/>
<path d="M1000,827 V855 H1057" fill="none" stroke="#222" stroke-width="1"/>
<text x="1003.5" y="850.5" class="el" textLength="51" lengthAdjust="spacingAndGlyphs">+ 3,000</text>
<g class="ld">
<path d="M1106,481.5 H976 L923.5,596"/>
<path d="M706.6,638 H776.5 L836.5,587 M776.5,638 L911.5,608"/>
<path d="M1097.5,653 H1035 L923.5,599"/>
<path d="M1118,675.6 H1035 L920.5,640 M1035,675.6 L920.5,704"/>
</g>
<text x="976.6" y="477.5" class="lab" textLength="130" lengthAdjust="spacingAndGlyphs">Усиление (брус 50х50</text>
<text x="976.6" y="493" class="lab" textLength="122" lengthAdjust="spacingAndGlyphs">с антисептической и</text>
<text x="976.6" y="509" class="lab" textLength="105" lengthAdjust="spacingAndGlyphs">противопожарной</text>
<text x="976.6" y="525" class="lab" textLength="74" lengthAdjust="spacingAndGlyphs">обработкой)</text>
<text x="707" y="634" class="lab" textLength="56" lengthAdjust="spacingAndGlyphs">ПС 50х50</text>
<text x="1036" y="648.5" class="lab" textLength="61" lengthAdjust="spacingAndGlyphs">Гайка М10</text>
<text x="1036" y="671.5" class="lab" textLength="81" lengthAdjust="spacingAndGlyphs">Шпилька М10</text>

<!-- ===== NOTES ===== -->
<text x="1109" y="807" class="lab" textLength="90" lengthAdjust="spacingAndGlyphs">ПРИМЕЧАНИЯ</text>
<text x="1109" y="823" class="lab" textLength="253" lengthAdjust="spacingAndGlyphs">1. Материал - труба стальная профильная</text>
<text x="1109" y="838.5" class="lab" textLength="256" lengthAdjust="spacingAndGlyphs">40х40х1,5.Порошковая покраска RAL 7022.</text>
<text x="1109" y="871" class="lab" textLength="377" lengthAdjust="spacingAndGlyphs">2. Данный лист смотреть совместно с листами №10, 11, 12, 14.</text>

<!-- ===== TITLE BLOCK ===== -->
<g stroke="#111" stroke-width="0.9" fill="none">
<path d="M843,902.6 H1085 M843,921.5 H1085 M843,940 H1085 M843,959 H1085 M843,996.4 H1085 M843,1015 H1085 M843,1034 H1085 M843,1053 H1085 M843,1071 H1085"/>
<path d="M880,884 V977.5 M917,884 V1090 M954,884 V977.5 M991,884 V1090 M1048,884 V1090"/>
<path d="M1346,996.4 H1534 M1402,977.5 V1034 M1458,977.5 V1034"/>
</g>
<g stroke="#111" stroke-width="1.5" fill="none">
<path d="M843,884 H1534 M843,884 V1090 M1085,884 V1090 M843,977.5 H1534 M1085,921.5 H1534 M1085,1034 H1534 M1346,977.5 V1090"/>
</g>
<rect x="987" y="1019" width="59" height="41" fill="#c6c9d6" filter="url(#blur)"/>
<rect x="1005" y="1030" width="22" height="22" fill="#a8aec8" filter="url(#blur)"/>
<g class="go">
<text x="1116" y="906" style="font-size:11px" textLength="149" lengthAdjust="spacingAndGlyphs">Заказчик: ООО "Инвест-Бейс"</text>
<text x="1389" y="912" style="font-size:22px" textLength="124" lengthAdjust="spacingAndGlyphs">18-04/16 АР</text>
<text x="1185" y="944" style="font-size:11px" textLength="251" lengthAdjust="spacingAndGlyphs">Московская область, а/п. Домодедово, ВВЛ, 1 этаж</text>
<text x="861" y="972" text-anchor="middle" style="font-size:10px" textLength="20" lengthAdjust="spacingAndGlyphs">Изм.</text>
<text x="898.5" y="972" text-anchor="middle" style="font-size:10px" textLength="32" lengthAdjust="spacingAndGlyphs">Кол. уч.</text>
<text x="935.5" y="972" text-anchor="middle" style="font-size:10px" textLength="24" lengthAdjust="spacingAndGlyphs">Лист</text>
<text x="972.5" y="972" text-anchor="middle" style="font-size:10px" textLength="31" lengthAdjust="spacingAndGlyphs">№ док.</text>
<text x="1019.5" y="972" text-anchor="middle" style="font-size:10px" textLength="23" lengthAdjust="spacingAndGlyphs">Подп.</text>
<text x="1066.5" y="972" text-anchor="middle" style="font-size:10px" textLength="23" lengthAdjust="spacingAndGlyphs">Дата</text>
<text x="1145.5" y="994" style="font-size:11px" textLength="148" lengthAdjust="spacingAndGlyphs">Магазин "Хорошие Новости"</text>
<text x="1374" y="990" text-anchor="middle" style="font-size:10.5px" textLength="29" lengthAdjust="spacingAndGlyphs">Стадия</text>
<text x="1430" y="990" text-anchor="middle" style="font-size:10.5px" textLength="23" lengthAdjust="spacingAndGlyphs">Лист</text>
<text x="1496" y="990" text-anchor="middle" style="font-size:10.5px" textLength="35" lengthAdjust="spacingAndGlyphs">Листов</text>
<text x="1374" y="1023" text-anchor="middle" style="font-size:22px" textLength="26" lengthAdjust="spacingAndGlyphs">РД</text>
<text x="1432" y="1023" text-anchor="middle" style="font-size:22px" textLength="18" lengthAdjust="spacingAndGlyphs">16</text>
<text x="1496" y="1023" text-anchor="middle" style="font-size:22px" textLength="23" lengthAdjust="spacingAndGlyphs">37</text>
<text x="846" y="1028.5" style="font-size:10px" textLength="19" lengthAdjust="spacingAndGlyphs">ГИП</text>
<text x="918" y="1028.5" style="font-size:10px" textLength="70" lengthAdjust="spacingAndGlyphs">Кириллов А.И.</text>
<text x="846" y="1047" style="font-size:10px" textLength="19" lengthAdjust="spacingAndGlyphs">ГАП</text>
<text x="918" y="1047" style="font-size:10px" textLength="68" lengthAdjust="spacingAndGlyphs">Чернышов И.А.</text>
<text x="1435" y="1052.5" text-anchor="middle" style="font-size:11px" textLength="105" lengthAdjust="spacingAndGlyphs">ООО СК "КОМФОРТ"</text>
<text x="1345" y="1099" style="font-size:7.5px" textLength="37" lengthAdjust="spacingAndGlyphs">Формат А3</text>
</g>
<text x="1129" y="1068" style="font-size:12.5px" textLength="189" lengthAdjust="spacingAndGlyphs">Конструкция подвесной фермы</text>
</svg>
</body></html>
